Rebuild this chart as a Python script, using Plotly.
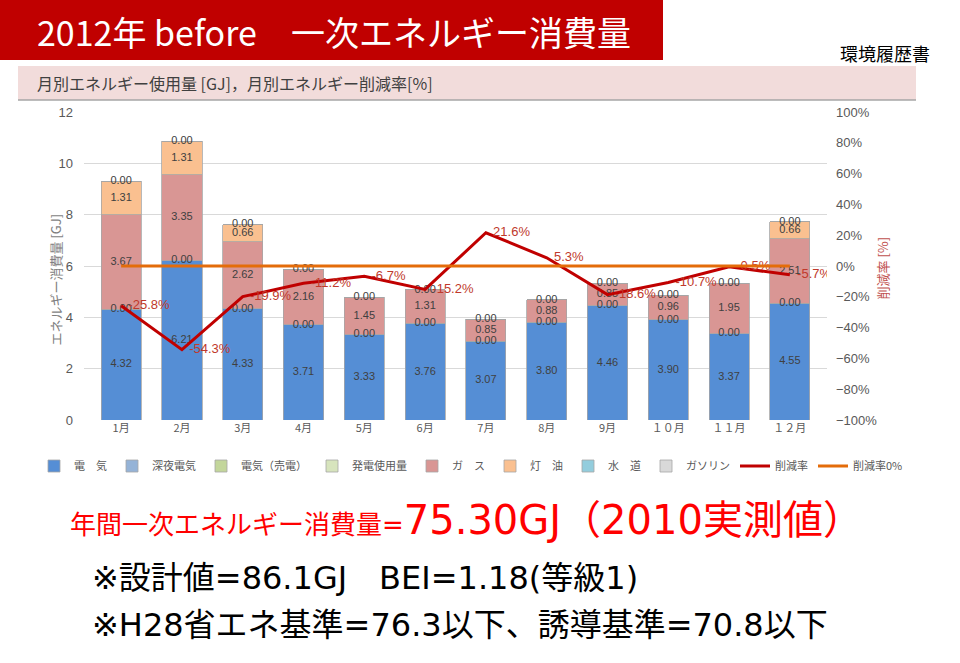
## Import libraries
import plotly.graph_objects as go
import numpy as np

## data
months = ["1月", "2月", "3月", "4月", "5月", "6月", "7月", "8月", "9月", "１０月", "１１月", "１２月"]

denki = [4.32, 6.21, 4.33, 3.71, 3.33, 3.76, 3.07, 3.80, 4.46, 3.90, 3.37, 4.55]
shinya = [0.00] * 12
baiden = [0.00] * 12
hatsuden = [0.00] * 12
gas = [3.67, 3.35, 2.62, 2.16, 1.45, 1.31, 0.85, 0.88, 0.85, 0.96, 1.95, 2.51]
touyu = [1.31, 1.31, 0.66, 0.00, 0.00, 0.00, 0.00, 0.00, 0.00, 0.00, 0.00, 0.66]
suidou = [0.00] * 12
gasoline = [0.00] * 12

sakugen = [-25.8, -54.3, -19.9, -11.2, -6.7, -15.2, 21.6, 5.3, -18.6, -10.7, -0.5, -5.7]
sakugen0 = [0] * 12

series = [
    ("電　気", denki, "#558ed5"),
    ("深夜電気", shinya, "#95b3d7"),
    ("電気（売電）", baiden, "#c3d69b"),
    ("発電使用量", hatsuden, "#d7e4bd"),
    ("ガ　ス", gas, "#d99694"),
    ("灯　油", touyu, "#fac090"),
    ("水　道", suidou, "#93cddd"),
    ("ガソリン", gasoline, "#d9d9d9"),
]

W, H = 960, 663
L, R, T, B = 84, 133, 112, 243
pw, ph = W - L - R, H - T - B

def px(x):  # pixel -> paper x
    return (x - L) / pw

def py(y):  # pixel -> paper y
    return (H - B - y) / ph

FONT = "Noto Sans CJK JP"
WIDE = "DejaVu Sans, Noto Sans CJK JP"

fig = go.Figure()

for name, vals, col in series:
    fig.add_trace(go.Bar(
        x=months, y=vals, name=name,
        marker=dict(color=col, line=dict(color="#a6a6a6", width=0.8)),
        hoverinfo="skip",
    ))

## bar labels (centered in each segment)
stack = np.zeros(12)
label_series = {"電　気", "深夜電気", "ガ　ス", "灯　油", "ガソリン"}
for name, vals, col in series:
    v = np.array(vals)
    mid = stack + v / 2
    stack = stack + v
    if name not in label_series:
        continue
    if name == "灯　油":
        idx = [i for i in range(12) if v[i] > 0]
    else:
        idx = list(range(12))
    fig.add_trace(go.Scatter(
        x=[months[i] for i in idx], y=[mid[i] for i in idx],
        mode="text", text=["%.2f" % v[i] for i in idx],
        textfont=dict(size=11, color="#404040", family="Liberation Sans"),
        showlegend=False, hoverinfo="skip",
    ))

fig.add_trace(go.Scatter(
    x=months, y=sakugen, name="削減率", yaxis="y2",
    mode="lines+text", text=["  %.1f%%" % v for v in sakugen],
    textposition="middle right",
    textfont=dict(size=13, color="#c0392b", family="Liberation Sans"),
    line=dict(color="#c00000", width=3),
))
fig.add_trace(go.Scatter(
    x=months, y=sakugen0, name="削減率0%", yaxis="y2",
    mode="lines", line=dict(color="#e46c0a", width=3),
))

fig.update_layout(
    width=W, height=H,
    margin=dict(l=L, r=R, t=T, b=B),
    barmode="stack", bargap=0.34,
    paper_bgcolor="white", plot_bgcolor="white",
    font=dict(family=FONT, color="#595959"),
    xaxis=dict(showgrid=False, tickfont=dict(size=11, color="#595959"), ticks="",
               showline=False),
    yaxis=dict(range=[0, 12], dtick=2, gridcolor="#d9d9d9", zeroline=False,
               tickfont=dict(size=13, color="#595959", family="Liberation Sans"),
               ticklabelstandoff=10),
    yaxis2=dict(range=[-100, 100], dtick=20, overlaying="y", side="right",
                showgrid=False, zeroline=False, ticksuffix="%",
                tickfont=dict(size=13, color="#595959", family="Liberation Sans"),
                ticklabelstandoff=8),
    legend=dict(orientation="h", x=px(908), y=py(466), xanchor="right", yanchor="middle",
                font=dict(size=11, color="#595959"), itemwidth=30,
                traceorder="normal", tracegroupgap=0),
    showlegend=True,
)

shapes = [
    dict(type="rect", xref="paper", yref="paper", x0=px(0), x1=px(663), y0=py(60), y1=py(0),
         fillcolor="#c00000", line=dict(width=0), layer="below"),
    dict(type="rect", xref="paper", yref="paper", x0=px(18), x1=px(916), y0=py(100), y1=py(66),
         fillcolor="#f2dcdb", line=dict(width=0), layer="below"),
    dict(type="line", xref="paper", yref="paper", x0=px(18), x1=px(916), y0=py(100), y1=py(100),
         line=dict(color="#a6a6a6", width=1.5)),
]
fig.update_layout(shapes=shapes)

annos = [
    dict(text="2012年 before　一次エネルギー消費量", x=px(35), y=py(32), xanchor="left",
         font=dict(size=34, color="white", family=FONT)),
    dict(text="環境履歴書", x=px(932), y=py(53), xanchor="right",
         font=dict(size=18, color="black", family=FONT)),
    dict(text="月別エネルギー使用量 [GJ]，月別エネルギー削減率[%]", x=px(35), y=py(83), xanchor="left",
         font=dict(size=16, color="#404040", family=FONT)),
    dict(text="エネルギー消費量 [GJ]", x=px(43), y=py(280), textangle=-90,
         font=dict(size=13, color="#7f7f7f", family=FONT)),
    dict(text="削減率 [%]", x=px(893), y=py(268), textangle=-90,
         font=dict(size=13, color="#c0504d", family=FONT)),
    dict(text="年間一次エネルギー消費量=<span style='font-size:40px'>75.30GJ（2010実測値）</span>",
         x=px(68), y=py(520), xanchor="left",
         font=dict(size=26, color="#ff0000", family=WIDE)),
    dict(text="※設計値=86.1GJ　BEI=1.18(等級1)", x=px(90), y=py(578), xanchor="left",
         font=dict(size=32, color="black", family=WIDE)),
    dict(text="※H28省エネ基準=76.3以下、誘導基準=70.8以下", x=px(90), y=py(625), xanchor="left",
         font=dict(size=32, color="black", family=WIDE)),
]
for a in annos:
    a.update(xref="paper", yref="paper", showarrow=False, yanchor="middle")
fig.update_layout(annotations=annos)

fig.write_html("out.html", post_script="document.body.style.margin='0';",
               config={"displayModeBar": False})
